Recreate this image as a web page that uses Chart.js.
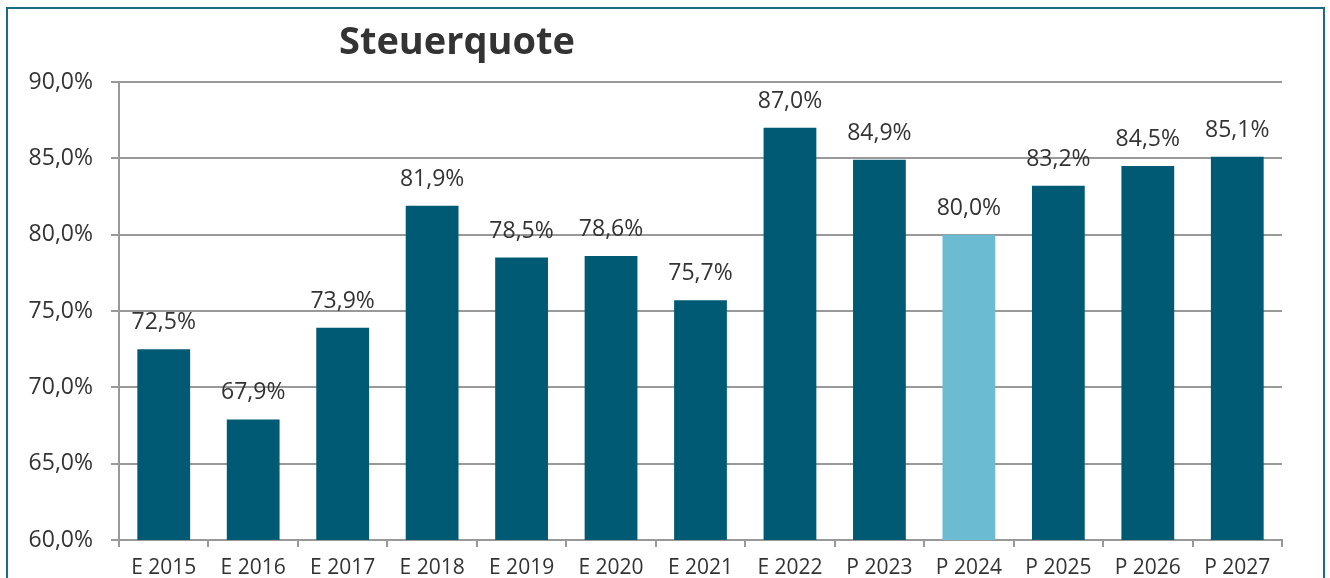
<!DOCTYPE html>
<html><head><meta charset="utf-8">
<script src="https://cdn.jsdelivr.net/npm/chart.js@4"></script>
<style>html,body{margin:0;padding:0;background:#fff}#wrap{width:1330px;height:578px;position:relative}</style>
</head><body><div id="wrap"><canvas id="c" width="1330" height="578"></canvas></div>
<script>
const categories = ["E 2015","E 2016","E 2017","E 2018","E 2019","E 2020","E 2021","E 2022","P 2023","P 2024","P 2025","P 2026","P 2027"];
const values = [72.5,67.9,73.9,81.9,78.5,78.6,75.7,87.0,84.9,80.0,83.2,84.5,85.1];
const barColors = ["#005a73","#005a73","#005a73","#005a73","#005a73","#005a73","#005a73","#005a73","#005a73","#6bbbd3","#005a73","#005a73","#005a73"];
const titleText = "Steuerquote";
const yMin = 60, yMax = 90, yStep = 5;

const FONT = "'Open Sans', 'Noto Sans', sans-serif";
const fmt = v => v.toFixed(1).replace('.', ',') + '%';

const decor = {
  id: 'decor',
  beforeDraw(chart) {
    const ctx = chart.ctx;
    ctx.save();
    ctx.fillStyle = '#fff';
    ctx.fillRect(0, 0, chart.width, chart.height);
    ctx.restore();
  },
  afterDraw(chart) {
    const ctx = chart.ctx;
    ctx.save();
    ctx.strokeStyle = '#1d6a84';
    ctx.lineWidth = 2;
    ctx.beginPath();
    ctx.moveTo(7, 590); ctx.lineTo(7, 8); ctx.lineTo(1324, 8); ctx.lineTo(1324, 590);
    ctx.stroke();
    ctx.fillStyle = '#333';
    ctx.font = "bold 38px " + FONT;
    ctx.textAlign = 'center';
    ctx.textBaseline = 'alphabetic';
    ctx.fillText(titleText, 457, 54);
    // data labels
    const meta = chart.getDatasetMeta(0);
    ctx.font = "23px " + FONT;
    ctx.fillStyle = '#333';
    meta.data.forEach((bar, i) => {
      ctx.fillText(fmt(values[i]), bar.x, bar.y - 20);
    });
    ctx.restore();
  }
};

new Chart(document.getElementById('c'), {
  type: 'bar',
  data: { labels: categories, datasets: [{ data: values, backgroundColor: barColors, barPercentage: 0.59, categoryPercentage: 1.0 }] },
  options: {
    responsive: false, animation: false, devicePixelRatio: 1,
    layout: { padding: { left: 0, top: 82, right: 48, bottom: 0 } },
    plugins: { legend: { display: false }, tooltip: { enabled: false } },
    scales: {
      x: {
        offset: true,
        grid: { display: true, offset: true, drawOnChartArea: false, tickLength: 7, color: '#999', lineWidth: 2 },
        border: { display: true, color: '#999', width: 2 },
        ticks: { color: '#333', font: { family: FONT, size: 21 }, padding: 8, maxRotation: 0, autoSkip: false },
        afterFit(s) { s.height = 38; }
      },
      y: {
        min: yMin, max: yMax,
        grid: { color: '#999', lineWidth: 2, tickLength: 8 },
        border: { display: true, color: '#999', width: 2 },
        ticks: { stepSize: yStep, color: '#333', font: { family: FONT, size: 23 }, padding: 18, callback: v => fmt(v) },
        afterFit(s) { s.width = 119; }
      }
    }
  },
  plugins: [decor]
});
</script></body></html>
